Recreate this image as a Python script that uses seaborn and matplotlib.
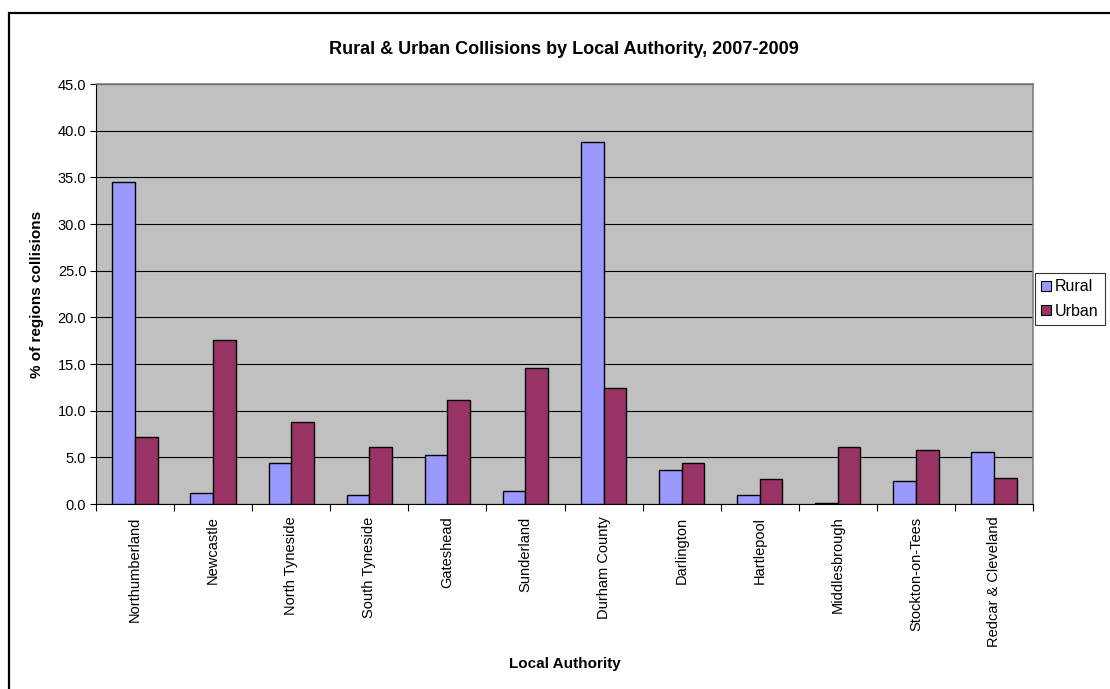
import matplotlib
matplotlib.use("Agg")
import matplotlib.pyplot as plt
from matplotlib.patches import Rectangle
import seaborn as sns
import pandas as pd

authorities = ["Northumberland", "Newcastle", "North Tyneside", "South Tyneside",
               "Gateshead", "Sunderland", "Durham County", "Darlington",
               "Hartlepool", "Middlesbrough", "Stockton-on-Tees", "Redcar & Cleveland"]
rural = [34.5, 1.2, 4.4, 1.0, 5.3, 1.4, 38.8, 3.6, 1.0, 0.1, 2.5, 5.6]
urban = [7.2, 17.6, 8.8, 6.1, 11.1, 14.6, 12.4, 4.4, 2.7, 6.1, 5.8, 2.8]
series = ["Rural", "Urban"]
y_ticks = [0, 5, 10, 15, 20, 25, 30, 35, 40, 45]

df = pd.DataFrame({
    "Local Authority": authorities * 2,
    "value": rural + urban,
    "series": [series[0]] * len(authorities) + [series[1]] * len(authorities),
})

sns.set_theme(style="white")
plt.rcParams["font.family"] = ["Liberation Sans", "DejaVu Sans"]
plt.rcParams["text.color"] = "black"
plt.rcParams["axes.labelcolor"] = "black"
plt.rcParams["xtick.color"] = "black"
plt.rcParams["ytick.color"] = "black"

W, H = 1110, 689
fig = plt.figure(figsize=(W / 100, H / 100), dpi=100)
ax = fig.add_axes([96 / W, 1 - 504 / H, (1033 - 96) / W, (504 - 84) / H])
ax.set_facecolor("#C0C0C0")

sns.barplot(data=df, x="Local Authority", y="value", hue="series",
            palette={"Rural": "#9999FF", "Urban": "#993366"},
            width=0.58, gap=0, edgecolor="black", linewidth=1.0,
            saturation=1, ax=ax, legend=True, zorder=3)

ax.set_ylim(0, 45)
ax.set_xlim(-0.5, len(authorities) - 0.5)
ax.set_yticks(y_ticks)
ax.set_yticklabels([f"{v:.1f}" for v in y_ticks], fontsize=10.5)
ax.yaxis.grid(True, color="black", linewidth=0.8, zorder=0)
ax.set_axisbelow(True)
ax.tick_params(axis="y", direction="out", length=4, width=0.8, color="black", pad=3, left=True)

# category labels centred, tick marks on category boundaries
ax.set_xticks(range(len(authorities)))
ax.set_xticklabels(authorities, rotation=90, fontsize=10.5)
ax.tick_params(axis="x", which="major", length=0, pad=9)
ax.set_xticks([i + 0.5 for i in range(-1, len(authorities))], minor=True)
ax.tick_params(axis="x", which="minor", direction="out", length=5, width=0.8,
               color="black", bottom=True)

for side in ["top", "right"]:
    ax.spines[side].set_color("#808080")
    ax.spines[side].set_linewidth(1.2)
for side in ["left", "bottom"]:
    ax.spines[side].set_color("black")
    ax.spines[side].set_linewidth(0.8)

ax.set_ylabel("% of regions collisions", fontsize=11, fontweight="bold", labelpad=10)
ax.set_xlabel("")
fig.text((96 + 1033) / 2 / W, 1 - 664 / H, "Local Authority", ha="center", va="center",
         fontsize=11, fontweight="bold")
fig.text(564 / W, 1 - 50 / H, "Rural & Urban Collisions by Local Authority, 2007-2009",
         ha="center", va="center", fontsize=13, fontweight="bold")

leg = ax.legend(loc="upper left", bbox_to_anchor=(1035 / W, 1 - 273 / H),
                bbox_transform=fig.transFigure, fontsize=11.5, frameon=True,
                fancybox=False, edgecolor="black", borderpad=0.4,
                handlelength=0.6, handleheight=0.6, handletextpad=0.25,
                labelspacing=0.6, borderaxespad=0)
leg.get_frame().set_linewidth(0.8)
for h in leg.legend_handles:
    h.set_edgecolor("black")
    h.set_linewidth(0.8)

# outer chart frame (left and top edges)
fig.patches.append(Rectangle((9 / W, -0.1), 1.2, 1.1 - 13 / H, transform=fig.transFigure,
                             fill=False, edgecolor="black", linewidth=1.6))

fig.savefig("out.png", dpi=100, facecolor="white")
